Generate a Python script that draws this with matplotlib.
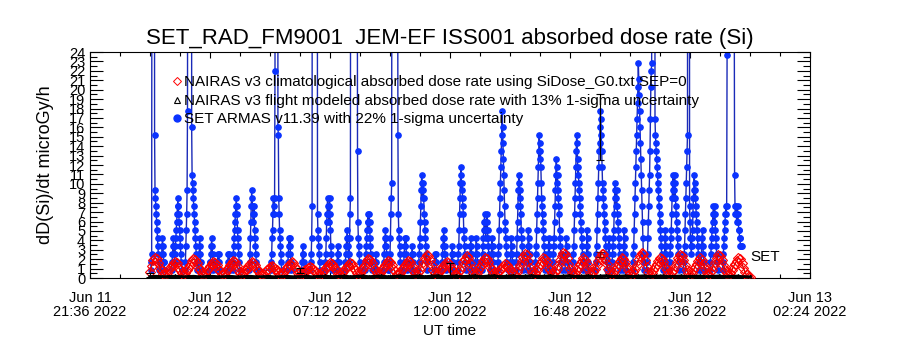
import numpy as np
import matplotlib
matplotlib.use('Agg')
import matplotlib.pyplot as plt
import matplotlib.dates as mdates
from matplotlib.lines import Line2D
from matplotlib.ticker import MultipleLocator, AutoMinorLocator, FixedLocator

plt.rcParams['font.family'] = ['Liberation Sans', 'DejaVu Sans']

'''Datos'''
t0 = np.datetime64('2022-06-12T00:00')   # minutos contados desde aqui

# SET ARMAS: cuentas de 0.845 microGy/h, cadencia 1 min, una lista por pasada
armas_step = 0.845
armas_start = [2, 24, 52, 84, 116, 142, 160, 186, 198, 238, 290, 330, 364, 385, 420,
               448, 468, 516, 540, 560, 574, 608, 626, 644, 682, 700, 722, 738, 766,
               780, 796, 818, 834, 864, 878, 904, 924, 954, 966, 996, 1014, 1046,
               1069, 1098, 1108, 1134, 1158, 1192, 1233, 1246, 1280, 1322, 1344, 1374]
armas_counts = [
    [1, 2, 3, 80, 220, 300, 280, 200, 150, 18, 11, 10, 9, 8, 7, 6, 5, 4, 3, 2, 1],
    [1, 2, 1, 2, 3, 4, 5, 4, 3, 2, 2, 1],
    [1, 2, 3, 4, 5, 4, 3, 2, 3, 4, 5, 6, 7, 8, 9, 10, 9, 8, 7, 6, 5, 4, 3, 2, 1],
    [1, 2, 4, 6, 8, 11, 21, 90, 200, 300, 320, 330, 320, 300, 250, 180, 19, 13, 12, 11,
     10, 9, 8, 7, 6, 5, 4, 3, 2, 1],
    [1, 2, 3, 5, 4, 3, 2, 1],
    [1, 2, 1, 2, 3, 4, 5, 4, 3, 2, 1],
    [1, 2, 2, 3, 2, 3, 2, 1],
    [1, 2, 3, 2, 3, 2, 1],
    [1, 2, 3, 4, 5, 6, 7, 8, 9, 10, 9, 8, 6, 5, 4, 3, 2, 1],
    [1, 2, 3, 5, 7, 9, 11, 10, 9, 8, 7, 9, 8, 6, 5, 4, 3, 2, 1],
    [1, 2, 3, 5, 6, 8, 10, 9, 8, 10, 26, 150, 300, 350, 330, 300, 250, 19, 18, 10, 8,
     6, 5, 4, 3, 2, 1],
    [1, 2, 3, 4, 5, 4, 5, 3, 2, 1],
    [1, 2, 3, 4, 3, 2, 1],
    [1, 2, 3, 5, 9, 120, 250, 330, 360, 370, 380, 370, 360, 330, 280, 200, 120, 8, 6,
     5, 4, 3, 2, 1],
    [1, 2, 3, 5, 7, 8, 10, 9, 8, 7, 9, 10, 8, 6, 4, 3, 2, 1],
    [1, 2, 3, 4, 3, 2, 1],
    [1, 2, 3, 4, 5, 6, 5, 4, 3, 2, 3, 5, 8, 10, 100, 200, 300, 350, 380, 400, 410, 400,
     390, 380, 350, 300, 250, 200, 150, 80, 16, 7, 5, 4, 3, 2, 1],
    [1, 2, 3, 4, 5, 6, 7, 8, 7, 6, 8, 7, 5, 4, 3, 2, 1],
    [1, 2, 3, 2, 1],
    [1, 2, 3, 4, 5, 6, 5, 4, 3, 2, 1],
    [1, 2, 3, 5, 8, 10, 12, 90, 180, 260, 320, 360, 380, 390, 380, 360, 320, 260, 180,
     120, 60, 18, 8, 6, 5, 4, 3, 2, 1],
    [1, 2, 3, 4, 5, 4, 5, 3, 2, 1],
    [1, 2, 3, 4, 3, 2, 1],
    [1, 2, 3, 4, 5, 7, 9, 11, 13, 12, 10, 11, 12, 10, 8, 7, 6, 5, 4, 3, 2, 1],
    [1, 2, 3, 2, 3, 2, 1],
    [1, 2, 3, 4, 5, 6, 5, 4, 3, 2, 1],
    [1, 2, 3, 4, 3, 2, 1],
    [1, 2, 3, 4, 6, 8, 10, 12, 14, 13, 11, 12, 10, 9, 8, 6, 5, 4, 3, 2, 1],
    [1, 2, 3, 4, 5, 4, 3, 2, 1],
    [1, 2, 3, 5, 4, 3, 2, 1],
    [1, 2, 3, 4, 5, 6, 7, 8, 7, 6, 5, 6, 7, 8, 6, 5, 4, 3, 2, 1],
    [1, 2, 4, 5, 4, 3, 2, 1],
    [1, 2, 3, 4, 6, 8, 10, 12, 14, 16, 18, 21, 19, 17, 15, 13, 11, 9, 7, 6, 5, 4, 3, 2, 1],
    [1, 2, 3, 5, 4, 3, 2, 1],
    [1, 2, 3, 5, 7, 9, 11, 13, 12, 10, 11, 9, 8, 6, 5, 4, 3, 2, 1],
    [1, 2, 3, 4, 6, 5, 4, 3, 2, 1],
    [1, 2, 3, 4, 6, 8, 10, 12, 14, 16, 18, 17, 15, 16, 14, 12, 10, 9, 8, 7, 6, 5, 4, 3, 2, 1],
    [1, 2, 3, 5, 4, 3, 2, 1],
    [1, 2, 3, 4, 5, 7, 9, 11, 13, 15, 14, 12, 13, 11, 10, 9, 8, 6, 5, 4, 3, 2, 1],
    [1, 2, 3, 5, 4, 3, 2, 1],
    [1, 2, 3, 4, 6, 8, 10, 12, 14, 16, 18, 17, 15, 13, 14, 12, 11, 10, 9, 8, 7, 6, 5, 4,
     3, 2, 1],
    [1, 2, 4, 6, 5, 3, 2, 1],
    [1, 2, 3, 4, 6, 8, 10, 12, 14, 16, 17, 19, 21, 20, 18, 16, 14, 12, 11, 10, 9, 8, 7,
     6, 5, 4, 3, 2, 1],
    [1, 2, 3, 5, 4, 2, 1],
    [1, 2, 3, 4, 5, 6, 8, 10, 12, 11, 9, 10, 11, 9, 8, 7, 6, 5, 4, 3, 2, 1],
    [1, 2, 3, 4, 6, 5, 3, 2, 1],
    [1, 2, 3, 4, 6, 8, 10, 12, 14, 16, 18, 20, 22, 24, 27, 25, 23, 21, 19, 17, 15, 13,
     11, 9, 7, 5, 3, 2, 1],
    [1, 2, 3, 5, 7, 9, 11, 13, 16, 20, 24, 26, 27, 120, 250, 330, 360, 330, 250, 120,
     20, 18, 17, 16, 15, 14, 13, 12, 11, 10, 9, 8, 7, 6, 5, 4, 3, 2, 1],
    [1, 2, 3, 5, 6, 4, 3, 2, 1],
    [1, 2, 3, 4, 5, 6, 8, 10, 11, 13, 12, 10, 11, 13, 12, 10, 9, 8, 7, 6, 5, 4, 3, 2, 1],
    [1, 2, 3, 4, 6, 8, 10, 12, 14, 16, 18, 150, 300, 300, 150, 9, 7, 5, 4, 3, 4, 5, 6,
     8, 10, 11, 13, 12, 10, 11, 9, 8, 7, 6, 5, 4, 3, 2, 1],
    [1, 2, 4, 5, 6, 4, 3, 2, 1],
    [1, 2, 3, 4, 5, 6, 7, 8, 9, 8, 7, 9, 8, 6, 5, 4, 3, 2, 1],
    [1, 2, 3, 4, 5, 6, 7, 8, 9, 8, 9, 28, 150, 250, 320, 360, 380, 390, 400, 400, 390,
     380, 360, 320, 250, 180, 120, 80, 40, 13, 9, 8, 9, 8, 7, 8, 9, 8, 7, 6, 6, 5, 5,
     4, 4, 4, 4],
]

# NAIRAS climatologico (microGy/h), cadencia 4 min, una fila por joroba
clim_step = 4
nairas_clim = [
    0.6, 1.3, 1.9, 2.1, 2.0, 1.6, 1.1, 0.7, 0.4,
    0.3, 0.5, 0.8, 1.1, 1.3, 1.5, 1.7, 1.6, 1.2, 0.8, 0.5,
    0.3, 0.5, 0.8, 1.1, 1.4, 1.8, 2.0, 1.9, 1.6, 1.2, 0.8, 0.5,
    0.3, 0.5, 0.8, 1.0, 1.3, 1.5, 1.7, 1.6, 1.4, 1.0, 0.7, 0.4,
    0.3, 0.5, 0.8, 1.1, 1.4, 1.6, 1.8, 1.7, 1.3, 0.9, 0.5,
    0.3, 0.5, 0.8, 1.0, 1.3, 1.5, 1.7, 1.6, 1.4, 1.0, 0.7, 0.4,
    0.3, 0.4, 0.6, 0.8, 1.0, 1.2, 1.3, 1.2, 1.0, 0.8, 0.5, 0.3,
    0.3, 0.5, 0.8, 1.1, 1.3, 1.5, 1.7, 1.6, 1.2, 0.8, 0.5,
    0.3, 0.4, 0.6, 0.8, 0.9, 1.1, 1.2, 1.1, 0.9, 0.7, 0.5, 0.3,
    0.3, 0.5, 0.7, 1.0, 1.2, 1.4, 1.6, 1.5, 1.3, 1.0, 0.7, 0.4,
    0.3, 0.5, 0.7, 1.0, 1.2, 1.4, 1.6, 1.5, 1.2, 0.8, 0.5,
    0.3, 0.5, 0.8, 1.1, 1.4, 1.8, 2.0, 1.9, 1.6, 1.2, 0.8, 0.5,
    0.3, 0.5, 0.8, 1.1, 1.4, 1.6, 1.8, 1.7, 1.4, 1.0, 0.7, 0.4,
    0.3, 0.5, 0.8, 1.1, 1.4, 1.6, 1.8, 1.7, 1.3, 0.9, 0.5,
    0.3, 0.6, 0.9, 1.3, 1.7, 2.1, 2.4, 2.3, 1.9, 1.4, 0.9, 0.5,
    0.3, 0.5, 0.8, 1.0, 1.3, 1.5, 1.7, 1.6, 1.4, 1.0, 0.7, 0.4,
    0.3, 0.6, 0.9, 1.3, 1.7, 2.0, 2.3, 2.1, 1.6, 1.0, 0.5,
    0.3, 0.5, 0.8, 1.2, 1.5, 1.8, 2.1, 2.0, 1.7, 1.2, 0.8, 0.5,
    0.3, 0.5, 0.7, 0.9, 1.1, 1.3, 1.5, 1.4, 1.2, 0.9, 0.6, 0.4,
    0.3, 0.6, 1.0, 1.4, 1.8, 2.2, 2.6, 2.4, 1.8, 1.1, 0.6,
    0.3, 0.5, 0.8, 1.2, 1.5, 1.8, 2.1, 2.0, 1.7, 1.2, 0.8, 0.5,
    0.3, 0.6, 1.0, 1.4, 1.9, 2.3, 2.7, 2.6, 2.1, 1.5, 1.0, 0.5,
    0.3, 0.5, 0.8, 1.2, 1.5, 1.8, 2.1, 1.9, 1.5, 1.0, 0.5,
    0.3, 0.6, 1.0, 1.4, 1.8, 2.2, 2.6, 2.5, 2.0, 1.5, 1.0, 0.5,
    0.3, 0.5, 0.8, 1.2, 1.5, 1.8, 2.1, 2.0, 1.7, 1.2, 0.8, 0.5,
    0.3, 0.6, 1.0, 1.4, 1.9, 2.3, 2.7, 2.5, 1.9, 1.2, 0.6,
    0.3, 0.5, 0.8, 1.2, 1.5, 1.8, 2.1, 2.0, 1.7, 1.2, 0.8, 0.5,
    0.3, 0.6, 0.9, 1.3, 1.7, 2.1, 2.4, 2.3, 1.9, 1.4, 0.9, 0.5,
    0.3, 0.5, 0.8, 1.2, 1.5, 1.8, 2.1, 1.9, 1.5, 1.0, 0.5,
    0.3, 0.6, 0.9, 1.3, 1.7, 2.1, 2.4, 2.3, 1.9, 1.4, 0.9, 0.5,
    0.3, 0.5, 0.8, 1.2, 1.5, 1.8, 2.1, 2.0, 1.6, 1.1, 0.6, 0.3, 0.1, 0.1,
]

# NAIRAS modelo de vuelo (microGy/h), cadencia 15 min
flight_step = 15
nairas_flight = [
    0.12, 0.15, 0.10, 0.13, 0.16, 0.10, 0.12, 0.15, 0.09, 0.13, 0.15, 0.10,
    0.12, 0.14, 0.09, 0.12, 0.15, 0.10, 0.11, 0.14, 0.09, 0.12, 0.14, 0.10,
    0.13, 0.16, 0.10, 0.14, 0.17, 0.11, 0.13, 0.17, 0.11, 0.14, 0.18, 0.11,
    0.15, 0.18, 0.11, 0.14, 0.19, 0.12, 0.15, 0.19, 0.11, 0.16, 0.20, 0.12,
    0.15, 0.19, 0.12, 0.16, 0.20, 0.12, 0.17, 0.21, 0.12, 0.16, 0.20, 0.13,
    0.17, 0.21, 0.12, 0.16, 0.20, 0.12, 0.17, 0.21, 0.13, 0.16, 0.20, 0.12,
    0.17, 0.21, 0.13, 0.16, 0.20, 0.12, 0.16, 0.20, 0.12, 0.16, 0.19, 0.12,
    0.15, 0.19, 0.12, 0.15, 0.18, 0.11, 0.15, 0.18, 0.11, 0.14, 0.17, 0.10, 0.10,
]

# barras de error (minutos, valor, 1-sigma)
err_t = [0, 360, 720, 1080]
err_v = [0.3, 0.8, 0.95, 16.05]
err_s = [0.2, 0.25, 0.65, 3.5]
clim_err_t = [1080]
clim_err_v = [2.5]
clim_err_s = [0.3]

x_ticks = ['2022-06-11T21:36', '2022-06-12T02:24', '2022-06-12T07:12', '2022-06-12T12:00',
           '2022-06-12T16:48', '2022-06-12T21:36', '2022-06-13T02:24']
labels = ['NAIRAS v3 climatological absorbed dose rate using SiDose_G0.txt SEP=0',
          'NAIRAS v3 flight modeled absorbed dose rate with 13% 1-sigma uncertainty',
          'SET ARMAS v11.39 with 22% 1-sigma uncertainty']


def fecha(minutos):
    return t0 + np.asarray(minutos).astype('timedelta64[m]')


armas_t = np.concatenate([s + np.arange(len(c)) for s, c in zip(armas_start, armas_counts)])
armas_v = np.concatenate(armas_counts) * armas_step
clim_t = np.arange(len(nairas_clim)) * clim_step
flight_t = np.arange(len(nairas_flight)) * flight_step

azul = '#0a32ff'
'''Gráfica'''
fig = plt.figure(figsize=(9, 3.5), dpi=100)
ax = fig.add_axes([0.1, 0.2057, 0.8, 0.6457])

ax.plot(fecha(armas_t), armas_v, '-', color='#1a2ab8', lw=1, marker='o', ms=3.8,
        mfc=azul, mec=azul, zorder=2)
ax.plot(fecha(clim_t), nairas_clim, '-', color='#d00000', lw=1, marker='D', ms=5,
        mfc='none', mec='#ff0000', mew=0.8, zorder=3)
ax.plot(fecha(flight_t), nairas_flight, '-', color='black', lw=2.5, marker='^', ms=3,
        mfc='none', mec='black', mew=0.7, zorder=4)
ax.errorbar(fecha(err_t), err_v, yerr=err_s, fmt='none', ecolor='black', elinewidth=0.8,
            capsize=3, capthick=0.8, zorder=5)
ax.errorbar(fecha(clim_err_t), clim_err_v, yerr=clim_err_s, fmt='none', ecolor='#800000',
            elinewidth=0.8, capsize=3, capthick=0.8, zorder=5)
ax.text(fecha(armas_t[-1] + 20), 2.2, 'SET', fontsize=11, va='center', ha='left')

handles = [Line2D([], [], ls='none', marker='D', ms=4, mfc='none', mec='#ff0000', mew=0.7),
           Line2D([], [], ls='none', marker='^', ms=5, mfc='none', mec='black', mew=0.8),
           Line2D([], [], ls='none', marker='o', ms=5, mfc=azul, mec=azul)]
ax.legend(handles, labels, loc='upper left', bbox_to_anchor=(0.115, 0.897), frameon=False,
          handlelength=0.6, handletextpad=0.15, borderpad=0, borderaxespad=0,
          labelspacing=0.3, fontsize=11)

ax.set_xlim(fecha(0) - np.timedelta64(144, 'm'), fecha(0) + np.timedelta64(1584, 'm'))
ax.set_ylim(0, 24)
ax.xaxis.set_major_locator(FixedLocator(mdates.date2num(np.array(x_ticks, dtype='datetime64[m]'))))
ax.xaxis.set_minor_locator(AutoMinorLocator(4))
ax.xaxis.set_major_formatter(mdates.DateFormatter('%b %d\n%H:%M %Y'))
ax.yaxis.set_major_locator(MultipleLocator(1))
ax.yaxis.set_minor_locator(MultipleLocator(0.5))
ax.tick_params(which='both', direction='in', top=True, right=True, width=0.8)
ax.tick_params(axis='y', which='major', length=9.4, labelsize=10.5, pad=3.5)
ax.tick_params(axis='y', which='minor', length=5)
ax.tick_params(axis='x', which='major', length=4.3, labelsize=10.5, pad=9)
ax.tick_params(axis='x', which='minor', length=3)
for lab in ax.get_xticklabels():
    lab.set_linespacing(1.0)
for s in ax.spines.values():
    s.set_linewidth(0.8)

ax.set_title('SET_RAD_FM9001  JEM-EF ISS001 absorbed dose rate (Si)', fontsize=16, pad=6)
ax.set_xlabel('UT time', fontsize=11, labelpad=4)
ax.set_ylabel('dD(Si)/dt microGy/h', fontsize=13)
ax.yaxis.set_label_coords(-0.05, 0.5)

fig.savefig('out.png', dpi=100)
